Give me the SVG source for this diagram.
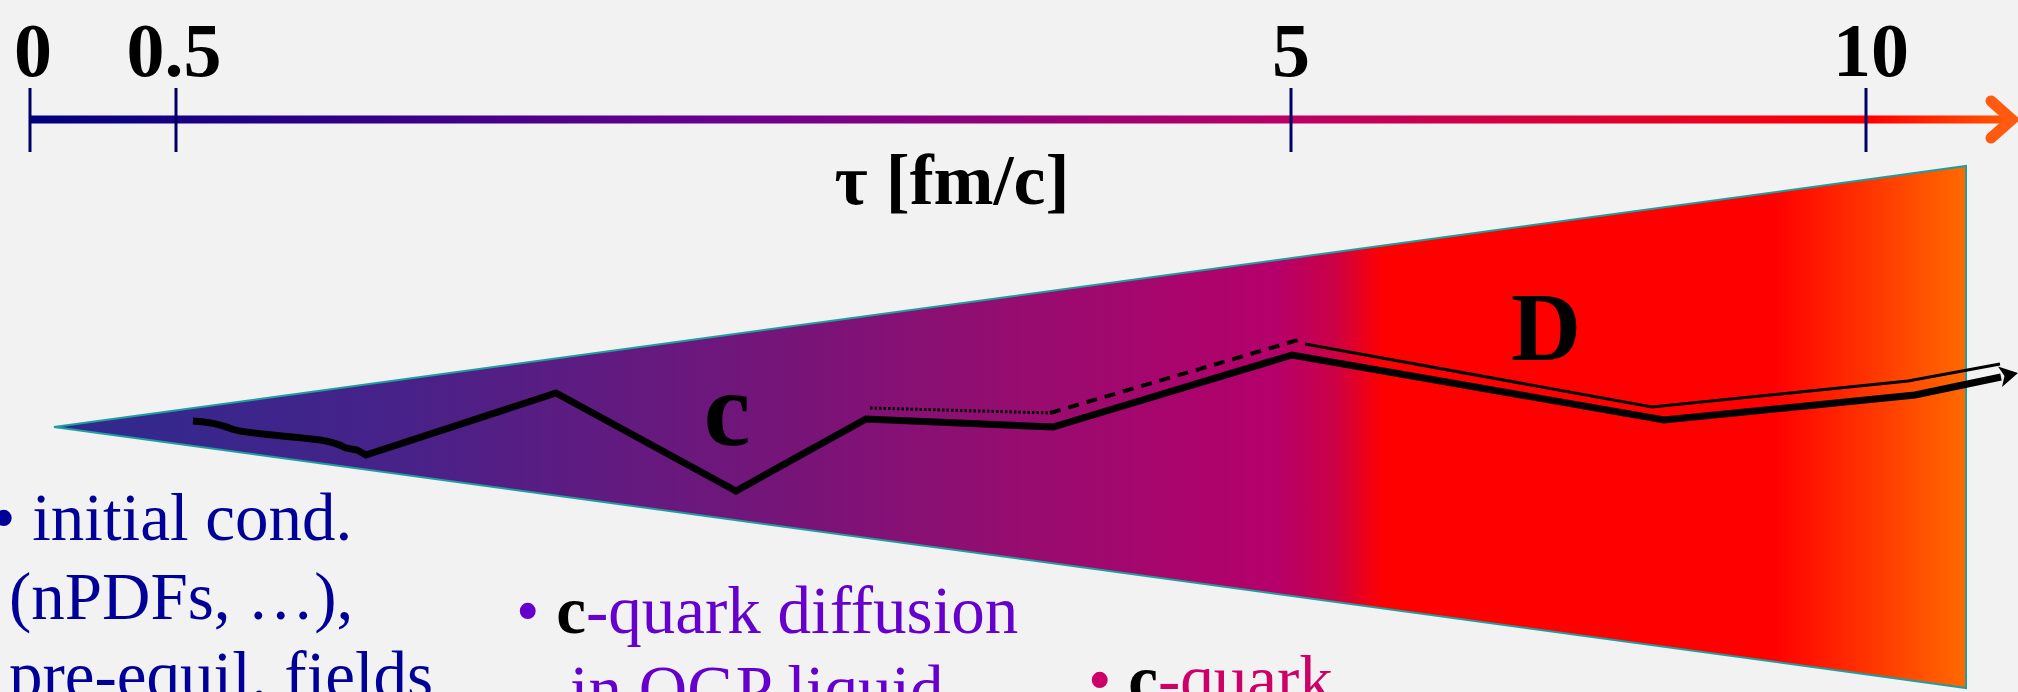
<svg xmlns="http://www.w3.org/2000/svg" width="2018" height="692" viewBox="0 0 2018 692">
  <defs>
    <linearGradient id="axisGrad" gradientUnits="userSpaceOnUse" x1="30" y1="0" x2="2010" y2="0">
      <stop offset="0" stop-color="#000080"/>
      <stop offset="0.35" stop-color="#6b008f"/>
      <stop offset="0.64" stop-color="#bb0066"/>
      <stop offset="0.93" stop-color="#ff0000"/>
      <stop offset="1" stop-color="#ff5a00"/>
    </linearGradient>
    <linearGradient id="wedgeGrad" gradientUnits="userSpaceOnUse" x1="54" y1="0" x2="1966" y2="0">
      <stop offset="0" stop-color="#2e2a8e"/>
      <stop offset="0.18" stop-color="#472289"/>
      <stop offset="0.39" stop-color="#781478"/>
      <stop offset="0.5" stop-color="#950d70"/>
      <stop offset="0.64" stop-color="#b5006a"/>
      <stop offset="0.67" stop-color="#cc0045"/>
      <stop offset="0.695" stop-color="#ff0000"/>
      <stop offset="0.9" stop-color="#ff0000"/>
      <stop offset="1" stop-color="#ff6a00"/>
    </linearGradient>
  </defs>
  <style>
    .num { font-family: "Liberation Serif", "Times New Roman", serif; font-weight: bold; font-size: 76px; fill: #000; text-anchor: middle; }
    .tick { stroke: #000066; stroke-width: 3; }
    .lbl { font-family: "Liberation Serif", "Times New Roman", serif; font-weight: bold; fill: #000; }
    .body { font-family: "Liberation Serif", "Times New Roman", serif; font-size: 67px; }
    .b { font-weight: bold; fill: #000; }
    .thick { fill: none; stroke: #000; stroke-width: 7; stroke-linejoin: miter; }
    .thin { fill: none; stroke: #000; stroke-width: 3; }
  </style>
  <rect x="0" y="0" width="2018" height="692" fill="#f2f2f2"/>

  <g id="axis">
    <line x1="30" y1="119.5" x2="2008" y2="119.5" stroke="url(#axisGrad)" stroke-width="8"/>
    <polyline points="1991,101 2012,119.5 1991,138" fill="none" stroke="#ff5a10" stroke-width="11" stroke-linecap="round" stroke-linejoin="miter"/>
    <line class="tick" x1="30" y1="88" x2="30" y2="152"/>
    <line class="tick" x1="176" y1="88" x2="176" y2="152"/>
    <line class="tick" x1="1291" y1="88" x2="1291" y2="152"/>
    <line class="tick" x1="1866" y1="88" x2="1866" y2="152"/>
    <text class="num" x="33" y="76">0</text>
    <text class="num" x="174" y="76">0.5</text>
    <text class="num" x="1291" y="76">5</text>
    <text class="num" x="1871" y="76">10</text>
    <text class="lbl" x="952" y="204" font-size="72" text-anchor="middle">τ [fm/c]</text>
  </g>

  <g id="medium">
    <polygon points="54,427 1966,166 1966,688" fill="url(#wedgeGrad)" stroke="#1f9e9e" stroke-width="2"/>
  </g>

  <g id="connectors">
    <path class="thick" d="M193,421 C210,422 220,424 232,429 C245,434 290,436 320,440 C335,442 342,446 346,448 L357,450 L366,455 L556,393 L736,491 L866,419 L1053,427 L1292,355 L1664,420 L1915,395 L2001,377"/>
    <polygon points="2018,373 1998,366.5 2004.5,376 2002,387" fill="#000"/>
    <polyline points="870,408 1050,413" fill="none" stroke="#000" stroke-width="3" stroke-dasharray="2.5 2"/>
    <polyline points="1050,413 1298,340" fill="none" stroke="#000" stroke-width="4" stroke-dasharray="11 8"/>
    <polyline class="thin" points="1305,344 1652,407 1908,381 2000,364"/>
  </g>

  <g id="label-c">
    <text class="lbl" x="727" y="445" font-size="105" text-anchor="middle">c</text>
  </g>
  <g id="label-D">
    <text class="lbl" x="1511" y="360" font-size="97">D</text>
  </g>

  <g id="text-initial">
    <text class="body" x="-8" y="540" fill="#000099">• initial cond.</text>
    <text class="body" x="9" y="619" fill="#000099">(nPDFs, …),</text>
    <text class="body" x="9" y="698" fill="#000099">pre-equil. fields</text>
  </g>
  <g id="text-diffusion">
    <text class="body" x="516" y="633" fill="#6600cc">• <tspan class="b">c</tspan>-quark diffusion</text>
    <text class="body" x="570" y="712" fill="#6600cc">in QGP liquid</text>
  </g>
  <g id="text-cquark">
    <text class="body" x="1088" y="702" fill="#cc0066">• <tspan class="b">c</tspan>-quark</text>
  </g>
</svg>
